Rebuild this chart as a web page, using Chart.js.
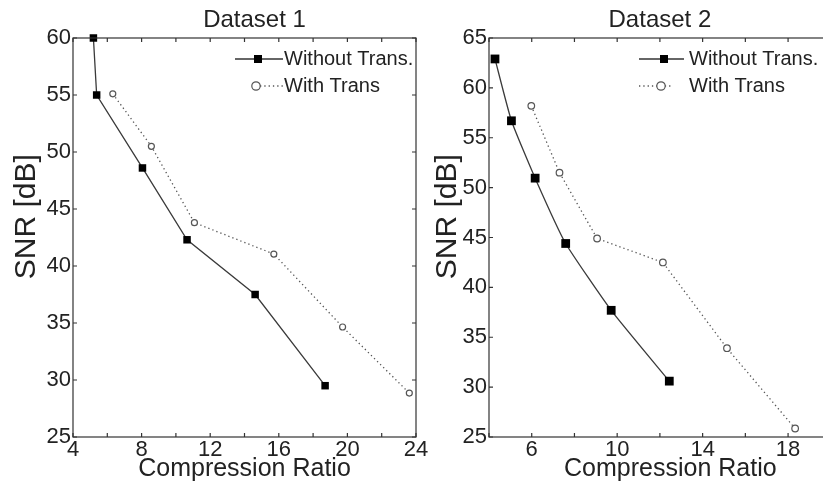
<!DOCTYPE html>
<html lang="en">
<head>
<meta charset="UTF-8">
<title>SNR vs Compression Ratio</title>
<style>
    body {
        margin: 0;
        width: 823px;
        height: 485px;
        overflow: hidden;
        background: #fff;
        position: relative;
    }
    canvas { position: absolute; top: 0; }
    #chart1 { left: 0; }
    #chart2 { left: 430px; }
</style>
</head>
<body>
<canvas id="chart1" width="430" height="485"></canvas>
<canvas id="chart2" width="407" height="485"></canvas>

<script src="https://cdn.jsdelivr.net/npm/chart.js@4.4.0/dist/chart.umd.min.js"></script>
<script>
    // values
    const seriesNames = ['Without Trans.', 'With Trans'];
    const titles = ['Dataset 1', 'Dataset 2'];
    const xLabel = 'Compression Ratio';
    const yLabel = 'SNR [dB]';

    // Dataset 1
    const ds1WithoutX = [5.19, 5.38, 8.05, 10.65, 14.62, 18.7];
    const ds1WithoutY = [60, 55.0, 48.6, 42.3, 37.5, 29.5];
    const ds1WithX = [6.32, 8.57, 11.08, 15.71, 19.72, 23.61];
    const ds1WithY = [55.1, 50.5, 43.8, 41.05, 34.65, 28.85];

    // Dataset 2
    const ds2WithoutX = [4.28, 5.05, 6.16, 7.59, 9.72, 12.44];
    const ds2WithoutY = [62.9, 56.7, 50.95, 44.4, 37.7, 30.6];
    const ds2WithX = [5.98, 7.30, 9.06, 12.14, 15.14, 18.33];
    const ds2WithY = [58.2, 51.5, 44.9, 42.5, 33.9, 25.85];

    // tick labels
    const xTicks1 = [4, 8, 12, 16, 20, 24];
    const xTicks2 = [6, 10, 14, 18];
    const yTicks1 = [25, 30, 35, 40, 45, 50, 55, 60];
    const yTicks2 = [25, 30, 35, 40, 45, 50, 55, 60, 65];

    Chart.defaults.font.family = "'Liberation Sans', Arial, sans-serif";
    Chart.defaults.color = '#222';

    function toPoints(xs, ys) {
        return xs.map((x, i) => ({ x: x, y: ys[i] }));
    }

    // matlab-like box with inward ticks + hand drawn legend
    const framePlugin = {
        id: 'frame',
        afterDraw(chart, args, opts) {
            const { ctx, chartArea: a, scales } = chart;
            const t = 4;
            ctx.save();
            ctx.strokeStyle = '#333';
            ctx.lineWidth = 1.2;
            ctx.strokeRect(a.left, a.top, a.right - a.left, a.bottom - a.top);
            ctx.beginPath();
            scales.x.ticks.forEach(tk => {
                const px = scales.x.getPixelForValue(tk.value);
                ctx.moveTo(px, a.bottom); ctx.lineTo(px, a.bottom - t);
                ctx.moveTo(px, a.top); ctx.lineTo(px, a.top + t);
            });
            scales.y.ticks.forEach(tk => {
                const py = scales.y.getPixelForValue(tk.value);
                ctx.moveTo(a.left, py); ctx.lineTo(a.left + t, py);
                ctx.moveTo(a.right, py); ctx.lineTo(a.right - t, py);
            });
            ctx.stroke();

            // legend row 1
            const r1 = opts.row1, r2 = opts.row2;
            ctx.strokeStyle = '#333';
            ctx.lineWidth = 1.3;
            ctx.beginPath();
            ctx.moveTo(r1.x0, r1.y); ctx.lineTo(r1.x1, r1.y);
            ctx.stroke();
            ctx.fillStyle = '#000';
            ctx.fillRect(r1.mx - 4, r1.y - 4, 8, 8);

            // legend row 2
            ctx.strokeStyle = '#555';
            ctx.setLineDash([1.3, 3]);
            ctx.beginPath();
            ctx.moveTo(r2.x0, r2.y); ctx.lineTo(r2.x1, r2.y);
            ctx.stroke();
            ctx.setLineDash([]);
            ctx.lineWidth = 1.2;
            ctx.fillStyle = '#fff';
            ctx.beginPath();
            ctx.arc(r2.mx, r2.y, 4.2, 0, Math.PI * 2);
            ctx.fill();
            ctx.stroke();

            ctx.fillStyle = '#222';
            ctx.font = "20px 'Liberation Sans', Arial, sans-serif";
            ctx.textBaseline = 'middle';
            ctx.fillText(seriesNames[0], opts.textX, r1.y);
            ctx.fillText(seriesNames[1], opts.textX, r2.y);
            ctx.restore();
        }
    };

    function buildChart(id, p) {
        return new Chart(document.getElementById(id), {
            type: 'scatter',
            data: {
                datasets: [{
                    label: seriesNames[0],
                    data: toPoints(p.withoutX, p.withoutY),
                    showLine: true,
                    borderColor: '#3a3a3a',
                    borderWidth: 1.3,
                    tension: p.tension,
                    pointStyle: 'rect',
                    pointRadius: p.sq,
                    pointBackgroundColor: '#000',
                    pointBorderColor: '#000',
                    pointBorderWidth: 0,
                    clip: false
                }, {
                    label: seriesNames[1],
                    data: toPoints(p.withX, p.withY),
                    showLine: true,
                    borderColor: '#555',
                    borderWidth: 1.3,
                    borderDash: [1.3, 3],
                    pointStyle: 'circle',
                    pointRadius: p.circ,
                    pointBackgroundColor: '#fff',
                    pointBorderColor: '#555',
                    pointBorderWidth: 1.2,
                    clip: false
                }]
            },
            options: {
                responsive: false,
                animation: false,
                devicePixelRatio: 1,
                layout: { padding: { left: 0, right: p.padRight, top: 0, bottom: 0 } },
                plugins: {
                    legend: { display: false },
                    tooltip: { enabled: false },
                    title: {
                        display: true,
                        text: p.title,
                        fullSize: false,
                        font: { size: 24, weight: 'normal' },
                        color: '#222',
                        padding: { top: 6, bottom: 3.2 }
                    },
                    frame: p.legend
                },
                scales: {
                    x: {
                        type: 'linear',
                        min: 4,
                        max: p.xMax,
                        afterFit(s) { s.height = 48; },
                        grid: { display: false, drawTicks: false },
                        border: { display: false },
                        ticks: {
                            stepSize: 2,
                            autoSkip: false,
                            maxRotation: 0,
                            padding: 0,
                            font: { size: 22 },
                            color: '#222',
                            callback: v => p.xTicks.includes(v) ? String(v) : ''
                        },
                        title: {
                            display: true,
                            text: p.xTitle,
                            font: { size: 25 },
                            color: '#222',
                            padding: { top: 0, bottom: 0.6 }
                        }
                    },
                    y: {
                        type: 'linear',
                        min: 25,
                        max: p.yMax,
                        afterFit(s) { s.width = p.yWidth; },
                        grid: { display: false, drawTicks: false },
                        border: { display: false },
                        ticks: {
                            stepSize: 5,
                            padding: 2,
                            font: { size: 22 },
                            color: '#222',
                            callback: v => p.yTicks.includes(v) ? String(v) : ''
                        },
                        title: {
                            display: true,
                            text: '     ' + yLabel,
                            font: { size: 30 },
                            color: '#222',
                            padding: { top: p.yTitlePad, bottom: 0 }
                        }
                    }
                }
            },
            plugins: [framePlugin]
        });
    }

    buildChart('chart1', {
        title: '   ' + titles[0],
        xTitle: xLabel,
        withoutX: ds1WithoutX, withoutY: ds1WithoutY,
        withX: ds1WithX, withY: ds1WithY,
        xMax: 24, yMax: 60,
        xTicks: xTicks1, yTicks: yTicks1,
        padRight: 14, yWidth: 73, yTitlePad: 9,
        sq: 5.3, circ: 3, tension: 0,
        legend: {
            row1: { x0: 235, x1: 283, mx: 258, y: 59 },
            row2: { x0: 260, x1: 283, mx: 256, y: 86 },
            textX: 284
        }
    });

    buildChart('chart2', {
        title: titles[1],
        xTitle: '   ' + xLabel,
        withoutX: ds2WithoutX, withoutY: ds2WithoutY,
        withX: ds2WithX, withY: ds2WithY,
        xMax: 20, yMax: 65,
        xTicks: xTicks2, yTicks: yTicks2,
        padRight: 2, yWidth: 59, yTitlePad: 0,
        sq: 6.2, circ: 3.3, tension: 0.15,
        legend: {
            row1: { x0: 209, x1: 254, mx: 234, y: 59 },
            row2: { x0: 209, x1: 242, mx: 231, y: 86 },
            textX: 259
        }
    });
</script>
</body>
</html>
